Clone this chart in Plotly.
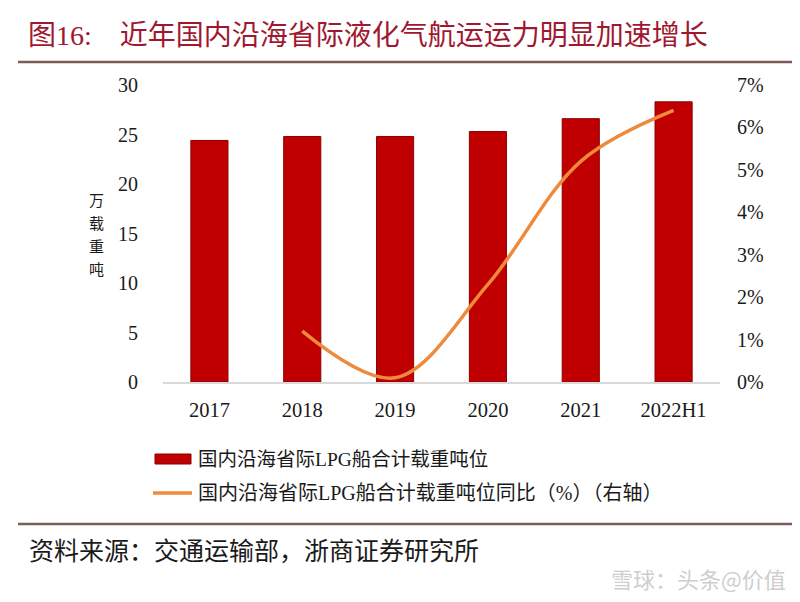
import plotly.graph_objects as go

categories = ["2017", "2018", "2019", "2020", "2021", "2022H1"]
tonnage = [24.4, 24.8, 24.8, 25.3, 26.6, 28.3]
yoy_cats = ["2018", "2019", "2020", "2021", "2022H1"]
yoy_pct = [1.2, 0.1, 2.3, 5.2, 6.4]
left_ticks = [0, 5, 10, 15, 20, 25, 30]
right_ticks = [0, 1, 2, 3, 4, 5, 6, 7]
ytitle_chars = ["万", "载", "重", "吨"]

bar_name = "国内沿海省际LPG船合计载重吨位"
line_name = "国内沿海省际LPG船合计载重吨位同比（%）（右轴）"

SERIF = "Liberation Serif, Times New Roman, Noto Sans CJK SC, serif"
CJK = "Noto Sans CJK SC, sans-serif"

OFF = 8  # page body offset
W, H = 800, 602
# plot area in screen pixels: x 163..720, y 85..382
L, T = 163 - OFF, 85 - OFF
R = W - (720 - OFF)
B = H - (382 - OFF)
pw, ph = W - L - R, H - T - B


def px(x):
    return (x - OFF - L) / pw


def py(y):
    return (H - B - (y - OFF)) / ph


fig = go.Figure()
fig.add_trace(go.Bar(
    x=categories, y=tonnage, name=bar_name,
    marker=dict(color="#C00000", line=dict(color="#8E0000", width=1)),
    yaxis="y",
))
fig.add_trace(go.Scatter(
    x=yoy_cats, y=yoy_pct, name=line_name, mode="lines",
    line=dict(color="#EE8A3C", width=3.5, shape="spline", smoothing=1.0),
    yaxis="y2",
))

fig.update_layout(
    width=W, height=H,
    margin=dict(l=L, r=R, t=T, b=B, autoexpand=False),
    paper_bgcolor="white", plot_bgcolor="white",
    showlegend=False,
    bargap=0.6,
    xaxis=dict(
        categoryorder="array", categoryarray=categories,
        showline=True, linecolor="#D9D9D9", linewidth=1.5,
        showgrid=False, ticks="", automargin=False,
        tickfont=dict(family=SERIF, size=20.5, color="#1a1a1a"),
        ticklabelstandoff=9,
    ),
    yaxis=dict(
        range=[0, 30], tickvals=left_ticks, showgrid=False, zeroline=False,
        showline=False, ticks="", automargin=False,
        tickfont=dict(family=SERIF, size=20, color="#1a1a1a"),
        ticklabelstandoff=24,
    ),
    yaxis2=dict(
        range=[0, 7], tickvals=right_ticks,
        ticktext=[f"{v}%" for v in right_ticks],
        overlaying="y", side="right", showgrid=False, zeroline=False,
        showline=False, ticks="", automargin=False,
        tickfont=dict(family=SERIF, size=20, color="#1a1a1a"),
        ticklabelstandoff=16,
    ),
)


def note(x, y, text, font, xanchor="left"):
    fig.add_annotation(
        x=px(x), y=py(y), xref="paper", yref="paper", text=text,
        showarrow=False, xanchor=xanchor, yanchor="middle", font=font,
    )


note(26, 35, "图16:\u3000近年国内沿海省际液化气航运运力明显加速增长",
     dict(family=SERIF, size=28, color="#A01830"))
for i, ch in enumerate(ytitle_chars):
    note(96, 199 + 23 * i, ch, dict(family=CJK, size=15, color="#1a1a1a"),
         xanchor="center")
note(196, 459, bar_name, dict(family=SERIF, size=19.5, color="#1a1a1a"))
note(196, 493, line_name, dict(family=SERIF, size=20, color="#1a1a1a"))
note(27, 551, "资料来源：交通运输部，浙商证券研究所",
     dict(family=SERIF, size=25, color="#1a1a1a"))
note(788, 578, "雪球：头条@价值", dict(family=CJK, size=22, color="rgba(200,200,200,0.9)"),
     xanchor="right")

shapes = [
    dict(type="line", xref="paper", yref="paper",
         x0=px(18), x1=px(808), y0=py(62), y1=py(62),
         line=dict(color="#7B5E57", width=2.5)),
    dict(type="line", xref="paper", yref="paper",
         x0=px(18), x1=px(808), y0=py(524), y1=py(524),
         line=dict(color="#7B5E57", width=2.5)),
    dict(type="rect", xref="paper", yref="paper",
         x0=px(155), x1=px(191), y0=py(464), y1=py(454),
         fillcolor="#C00000", line=dict(color="#8E0000", width=1)),
    dict(type="line", xref="paper", yref="paper",
         x0=px(153), x1=px(192), y0=py(493), y1=py(493),
         line=dict(color="#EE8A3C", width=3.5)),
]
fig.update_layout(shapes=shapes)

fig.write_html("out.html")
